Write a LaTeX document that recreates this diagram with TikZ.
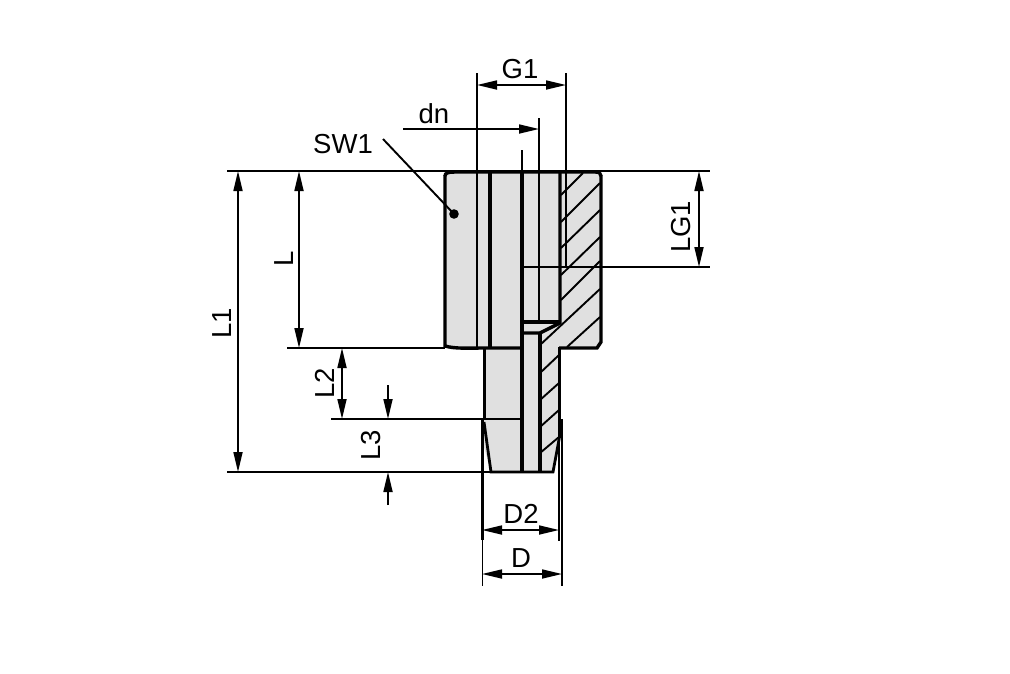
\documentclass[tikz,border=0pt]{standalone}
\usepackage{fontspec}
\setmainfont{Liberation Sans}
\usetikzlibrary{arrows.meta}
\definecolor{bodygray}{HTML}{E0E0E0}
\tikzset{
  outline/.style={line width=3.4pt,line cap=butt,line join=miter},
  thinline/.style={line width=1.9pt},
  hatch/.style={line width=1.9pt},
  dimension/.style={line width=1.7pt,{Triangle[length=20pt,width=9pt]}-{Triangle[length=20pt,width=9pt]}},
  tipend/.style={line width=1.7pt,-{Triangle[length=20pt,width=9pt]}},
  dimtext/.style={font=\fontsize{27.5pt}{30pt}\selectfont,inner sep=0pt,text=black},
  dimtextv/.style={dimtext,rotate=90}
}
\begin{document}
\begin{tikzpicture}[x=1pt,y=-1pt]
\useasboundingbox (0,0) rectangle (1010,673);
\fill[white] (0,0) rectangle (1010,673);
% body fill
\fill[bodygray] (445,172) -- (601,172) -- (601,342) -- (597,348) -- (559,348) -- (559,437) -- (553,472) -- (491,472) -- (484,447) -- (484,348) -- (445,346) -- cycle;
% hatching
\foreach \a/\b/\c/\d in {561/195/583/173, 561/222/600/183, 561/248/600/210, 561/275/600/237, 561/300/600/261, 540/345/600/289, 567/347/600/317, 540/373/559/355, 540/400/559/383, 540/427/559/410, 540/453/559/437}
  \draw[hatch] (\a,\b) -- (\c,\d);
% extension and leader lines
\coordinate (topL) at (227,171);
\coordinate (topR) at (710,171);
\coordinate (g1L) at (477,73);
\coordinate (g1R) at (566,73);
\coordinate (g1Lb) at (477,347);
\coordinate (g1Rb) at (566,267);
\coordinate (dnT) at (539,118);
\coordinate (dnB) at (539,322);
\coordinate (holeT) at (522,150);
\draw[thinline] (topL) -- (topR);
\draw[thinline] (g1L) -- (g1Lb);
\draw[thinline] (g1R) -- (g1Rb);
\draw[thinline] (dnT) -- (dnB);
\draw[thinline] (holeT) -- (522,172);
\draw[thinline] (522,267) -- (710,267);
\draw[thinline] (287,348) -- (445,348);
\draw[thinline] (331,419) -- (522,419);
\draw[thinline] (227,472) -- (491,472);
\draw[thinline] (383,139) -- (454,214);
\fill (454,214) circle (4.8);
% outline
\draw[outline] (445,176) .. controls (445,173) and (448,172) .. (455,172) -- (595,172) .. controls (599,172) and (601,173) .. (601,176);
\draw[outline] (445,175) -- (445,346) .. controls (455,349) and (470,348) .. (484,348) -- (522,348);
\draw[outline] (601,175) -- (601,342) -- (597,348) -- (559,348);
\draw[outline] (560,172) -- (560,323) -- (540,333) -- (522,333);
\draw[outline] (522,322) -- (560,322);
\draw[outline] (490,172) -- (490,348);
\draw[outline] (522,172) -- (522,472);
\draw[outline] (540,333) -- (540,472);
\draw[line width=2.8pt] (484.5,348) -- (484.5,420);
\draw[line width=2.8pt] (559.5,347) -- (559.5,437) -- (553,472) -- (491,472) -- (484,422);
% D extension lines
\draw[outline] (482.5,420) -- (482.5,540);
\draw[thinline] (482.5,540) -- (482.5,586);
\draw[thinline] (559,437) -- (559,541);
\draw[line width=2.4pt] (562,419) -- (562,586);
% dimensions
\draw[dimension] (238,171) -- (238,472);
\draw[dimension] (299,171) -- (299,348);
\draw[dimension] (342,348) -- (342,419);
\draw[dimension] (699,171) -- (699,267);
\draw[dimension] (477,85) -- (566,85);
\draw[dimension] (482,530) -- (559,530);
\draw[dimension] (482,574) -- (562,574);
\draw[tipend] (403,129) -- (539,129);
\draw[tipend] (388,385) -- (388,419);
\draw[tipend] (388,505) -- (388,472);
% labels
\node[dimtext] (lblSW) at (343,144) {SW1};
\node[dimtext] (lblG) at (520,69) {G1};
\node[dimtext] (lblDn) at (434,114) {dn};
\node[dimtext] (lblD2) at (521,514) {D2};
\node[dimtext] (lblD) at (521,558) {D};
\node[dimtextv] (lblL1) at (222,323) {L1};
\node[dimtextv] (lblL) at (284,259) {L};
\node[dimtextv] (lblL2) at (325,383) {L2};
\node[dimtextv] (lblL3) at (371,445) {L3};
\node[dimtextv] (lblLG) at (681,227) {LG1};
\end{tikzpicture}
\end{document}
